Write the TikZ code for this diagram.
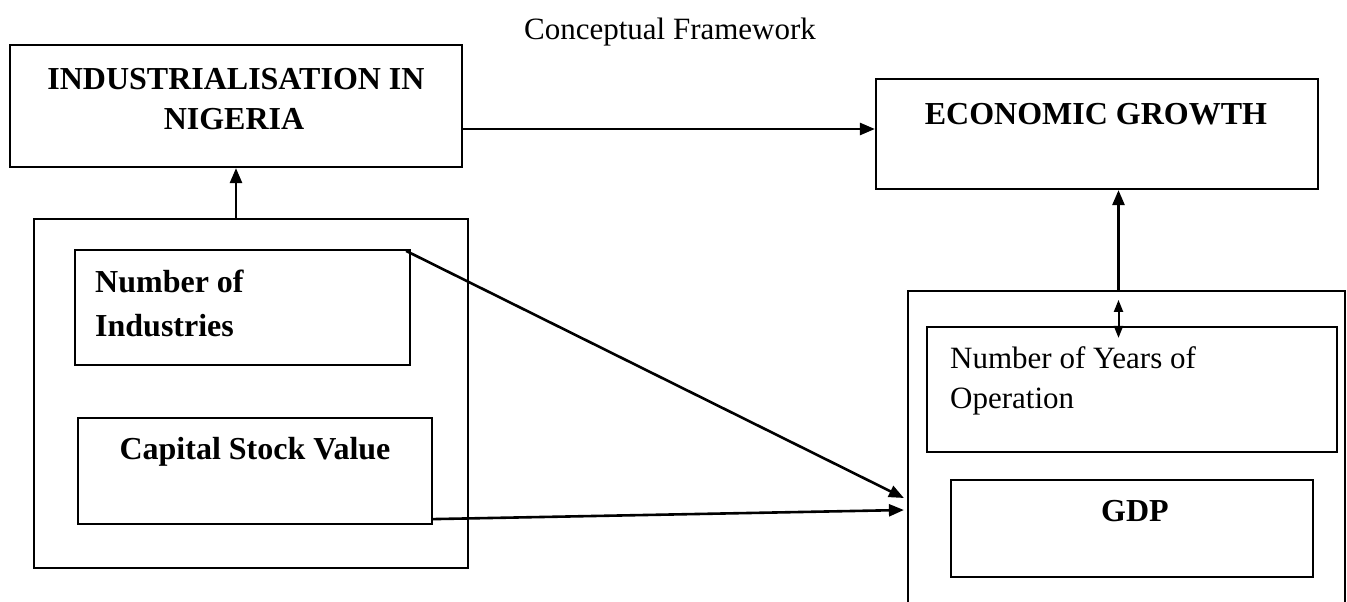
\documentclass[tikz,border=0pt]{standalone}
\usepackage{fontspec}
\setmainfont{Liberation Serif}
\usepackage{tikz}
\usetikzlibrary{arrows}
\usetikzlibrary{arrows.meta}
\usetikzlibrary{shapes}

\begin{document}
\begin{tikzpicture}[x=1pt,y=-1pt,
	box/.style={draw=black, line width=2.2pt, rectangle, inner sep=0pt},
	txt/.style={inner sep=0pt, font=\fontsize{31}{40}\selectfont},
	btxt/.style={txt, font=\fontsize{32}{40}\selectfont\bfseries},
	conn/.style={-{Triangle[length=15pt,width=12pt]}, black, line width=2.6pt}]

	\clip[use as bounding box] (0,0) rectangle (1347,602);

	% Title
	\node[txt, anchor=base] (title) at (670,40) {Conceptual Framework};

	% Top boxes
	\node[box, minimum width=452pt, minimum height=122pt] (indbox) at (236,106) {};
	\node[box, minimum width=442pt, minimum height=110pt] (ecobox) at (1097,134) {};

	% Left group
	\node[box, minimum width=434pt, minimum height=349pt] (leftbox) at (251,393.5) {};
	\node[box, minimum width=335pt, minimum height=115pt] (numbox) at (242.5,307.5) {};
	\node[box, minimum width=354pt, minimum height=106pt] (capbox) at (255,471) {};

	% Right group
	\node[box, minimum width=437pt, minimum height=340pt] (rightbox) at (1126.5,461) {};
	\node[box, minimum width=410pt, minimum height=125pt] (yearsbox) at (1132,389.5) {};
	\node[box, minimum width=362pt, minimum height=97pt] (gdpbox) at (1132,528.5) {};

	% Labels
	\node[btxt, anchor=base] (indlab1) at (236,89) {INDUSTRIALISATION IN};
	\node[btxt, anchor=base] (indlab2) at (234,129) {NIGERIA};
	\node[btxt, anchor=base] (ecolab) at (1096,124) {ECONOMIC GROWTH};
	\node[btxt, anchor=base west] (numlab1) at (95,292) {Number of};
	\node[btxt, anchor=base west] (numlab2) at (95,336) {Industries};
	\node[btxt, anchor=base] (caplab) at (255,459) {Capital Stock Value};
	\node[txt, anchor=base west] (yrslab1) at (950,368) {Number of Years of};
	\node[txt, anchor=base west] (yrslab2) at (950,408) {Operation};
	\node[btxt, anchor=base] (gdplab) at (1135,521) {GDP};

	% Arrows
	\coordinate (hstart) at ([yshift=-23pt]indbox.east);
	\draw[conn] (hstart) -- (hstart -| ecobox.west);
	\draw[conn] (leftbox.north -| indbox.south) -- (indbox.south);
	\draw[conn] ([xshift=-8pt]rightbox.north) -- ([xshift=-8pt]rightbox.north |- ecobox.south);
	\draw[conn] ([xshift=-5pt,yshift=-2pt]numbox.north east) -- ([xshift=-3pt,yshift=-37pt]rightbox.west);
	\draw[conn] ([yshift=6pt]capbox.south east) -- ([xshift=-3pt,yshift=-49pt]rightbox.west);

	% double arrow
	\coordinate (dtop) at ([xshift=-8pt,yshift=-10pt]rightbox.north);
	\coordinate (dbot) at ([xshift=-8pt,yshift=-48pt]rightbox.north);
	\draw[{Triangle[length=12pt,width=9pt]}-{Triangle[length=12pt,width=9pt]}, black, line width=2pt] (dtop) -- (dbot);

\end{tikzpicture}
\end{document}
